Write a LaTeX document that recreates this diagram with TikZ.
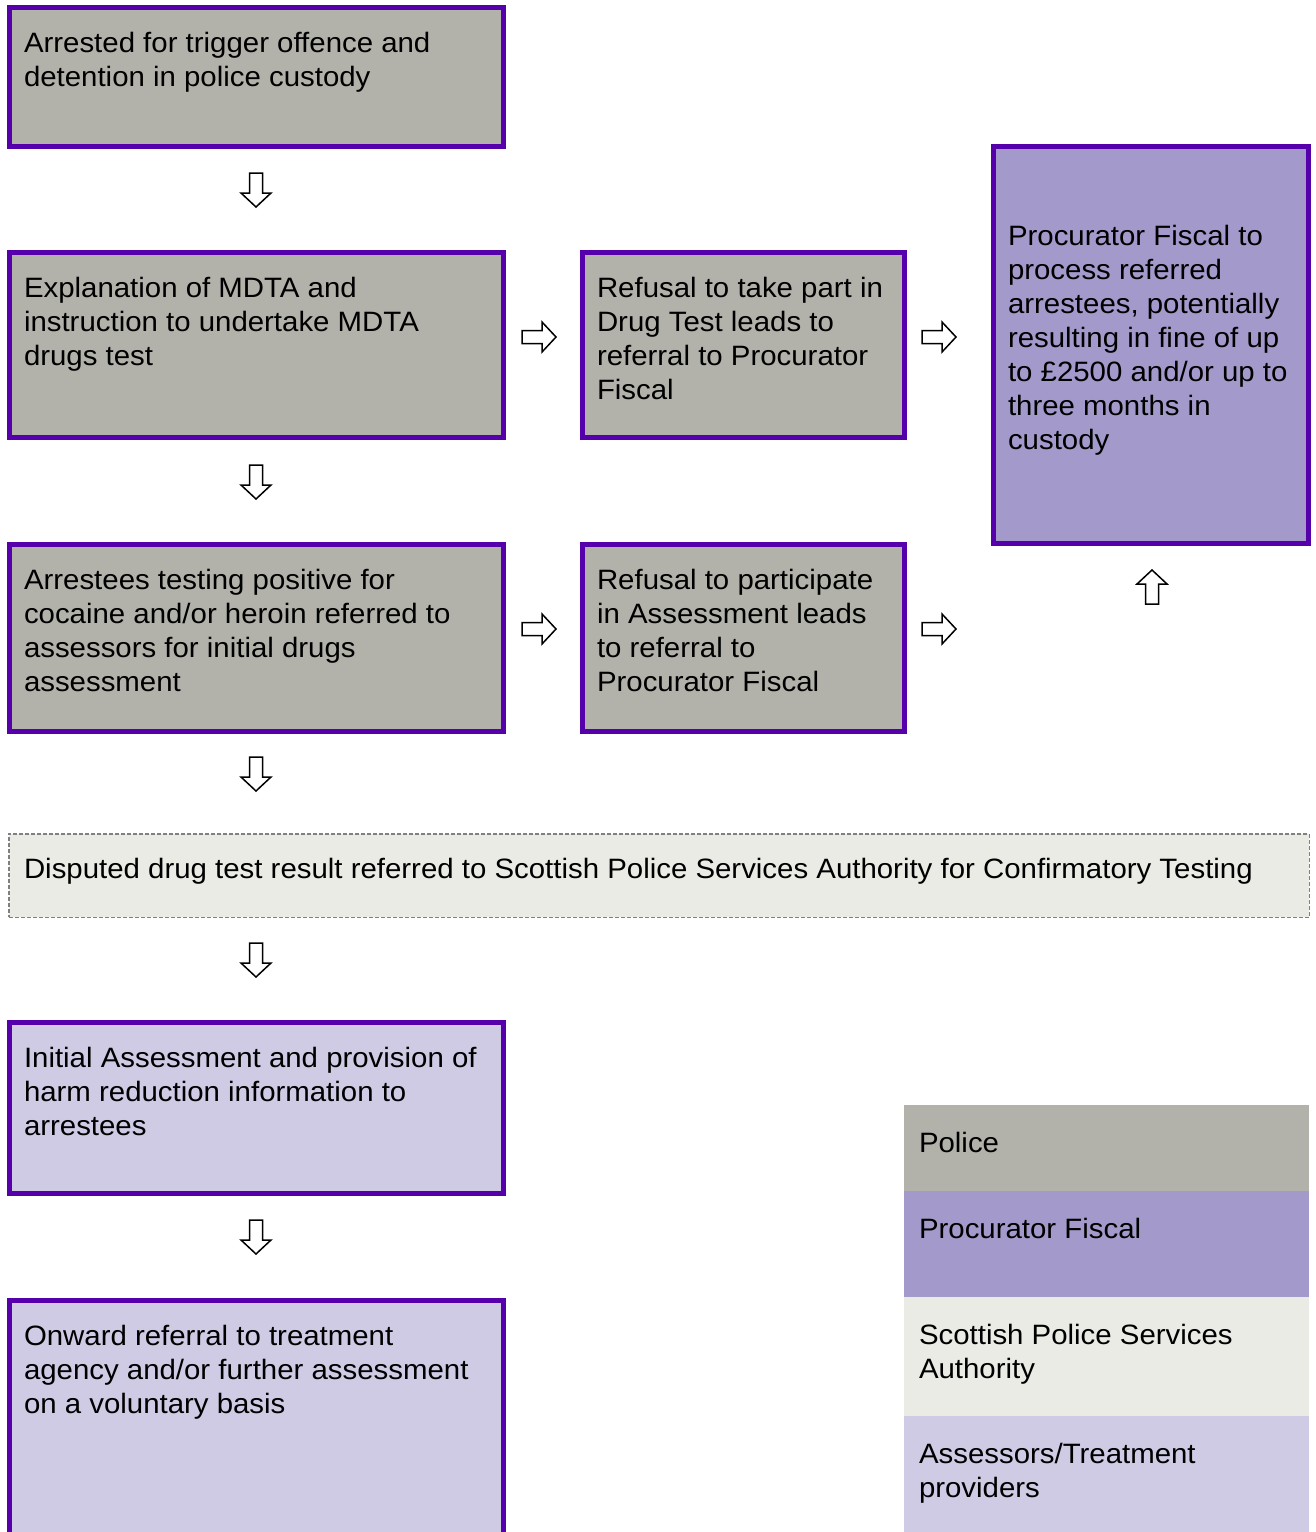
\documentclass[tikz,border=0pt]{standalone}
\usepackage{fontspec}
\setmainfont{Liberation Sans}[FakeStretch=1.05]
\usetikzlibrary{positioning}

\definecolor{frame}{RGB}{85,0,170}
\definecolor{police}{RGB}{178,178,170}
\definecolor{fiscal}{RGB}{163,154,203}
\definecolor{spsa}{RGB}{235,235,229}
\definecolor{assess}{RGB}{207,203,229}

% text cell: [top skip]{width}{height}{text}
\newcommand{\cell}[4][0pt]{\parbox[t][#3][t]{#2}{\raggedright\vspace*{#1}\strut#4}}

\tikzset{
  hollowarrow/.pic={
    \draw[line width=1.5pt,fill=white,miter limit=4]
      (-6.5,-17) -- (6.5,-17) -- (6.5,3) -- (15,3) -- (0,17) -- (-15,3) -- (-6.5,3) -- cycle;
  }
}

\begin{document}
\begin{tikzpicture}[x=1pt,y=-1pt,font=\fontsize{28}{34}\selectfont,
    stage/.style={draw=frame,line width=5pt,anchor=north west,inner xsep=14.5pt,inner ysep=20.7pt},
    key/.style={draw=none,outer sep=0pt,inner xsep=15pt,inner ysep=23.2pt}]
    \useasboundingbox (0,0) rectangle (1316,1532);
    \begin{scope}[every node/.style={stage}]
        \node[fill=police] (arrest) at (7,5) {\cell{465pt}{97.6pt}{Arrested for trigger offence and\\ detention in police custody}};
        \node[fill=police] (explain) at (7,250) {\cell{465pt}{143.6pt}{Explanation of MDTA and\\ instruction to undertake MDTA\\ drugs test}};
        \node[fill=police] (positive) at (7,542) {\cell{465pt}{145.6pt}{Arrestees testing positive for\\ cocaine and/or heroin referred to\\ assessors for initial drugs\\ assessment}};
        \node[fill=police] (refusetest) at (580,250) {\cell{293pt}{143.6pt}{Refusal to take part in\\ Drug Test leads to\\ referral to Procurator\\ Fiscal}};
        \node[fill=police] (refuseassess) at (580,542) {\cell{293pt}{145.6pt}{Refusal to participate\\ in Assessment leads\\ to referral to\\ Procurator Fiscal}};
        \node[fill=fiscal] (process) at (991,144) {\cell[54pt]{286pt}{355.6pt}{Procurator Fiscal to\\ process referred\\ arrestees, potentially\\ resulting in fine of up\\ to £2500 and/or up to\\ three months in\\ custody}};
        \node[fill=assess] (initial) at (7,1020) {\cell{465pt}{129.6pt}{Initial Assessment and provision of\\ harm reduction information to\\ arrestees}};
        \node[fill=assess] (onward) at (7,1298) {\cell{465pt}{200.6pt}{Onward referral to treatment\\ agency and/or further assessment\\ on a voluntary basis}};
    \end{scope}
    \node[stage,fill=spsa,draw=black!50,line width=1.5pt,dash pattern=on 4pt off 2pt,inner xsep=15.25pt,inner ysep=20.45pt] (dispute) at (8,833)
        {\cell{1270pt}{42.6pt}{Disputed drug test result referred to Scottish Police Services Authority for Confirmatory Testing}};
    % legend
    \begin{scope}[node distance=0pt]
        \node[key,fill=police,anchor=north west] (kpolice) at (904,1105) {\cell{375pt}{39.6pt}{Police}};
        \node[key,fill=fiscal,below=of kpolice] (kfiscal) {\cell{375pt}{59.6pt}{Procurator Fiscal}};
        \node[key,fill=spsa,below=of kfiscal] (kspsa) {\cell{375pt}{72.6pt}{Scottish Police Services\\ Authority}};
        \node[key,fill=assess,below=of kspsa] (kassess) {\cell{375pt}{77.6pt}{Assessors/Treatment\\ providers}};
    \end{scope}
    % arrows
    \pic (d1) at (256,190) {hollowarrow};
    \pic (d2) at (256,482) {hollowarrow};
    \pic (d3) at (256,774) {hollowarrow};
    \pic (d4) at (256,960) {hollowarrow};
    \pic (d5) at (256,1237) {hollowarrow};
    \pic[rotate=90] (r1) at (539,337) {hollowarrow};
    \pic[rotate=90] (r2) at (939,337) {hollowarrow};
    \pic[rotate=90] (r3) at (539,629) {hollowarrow};
    \pic[rotate=90] (r4) at (939,629) {hollowarrow};
    \pic[rotate=180] (u1) at (1152,587) {hollowarrow};
\end{tikzpicture}
\end{document}
